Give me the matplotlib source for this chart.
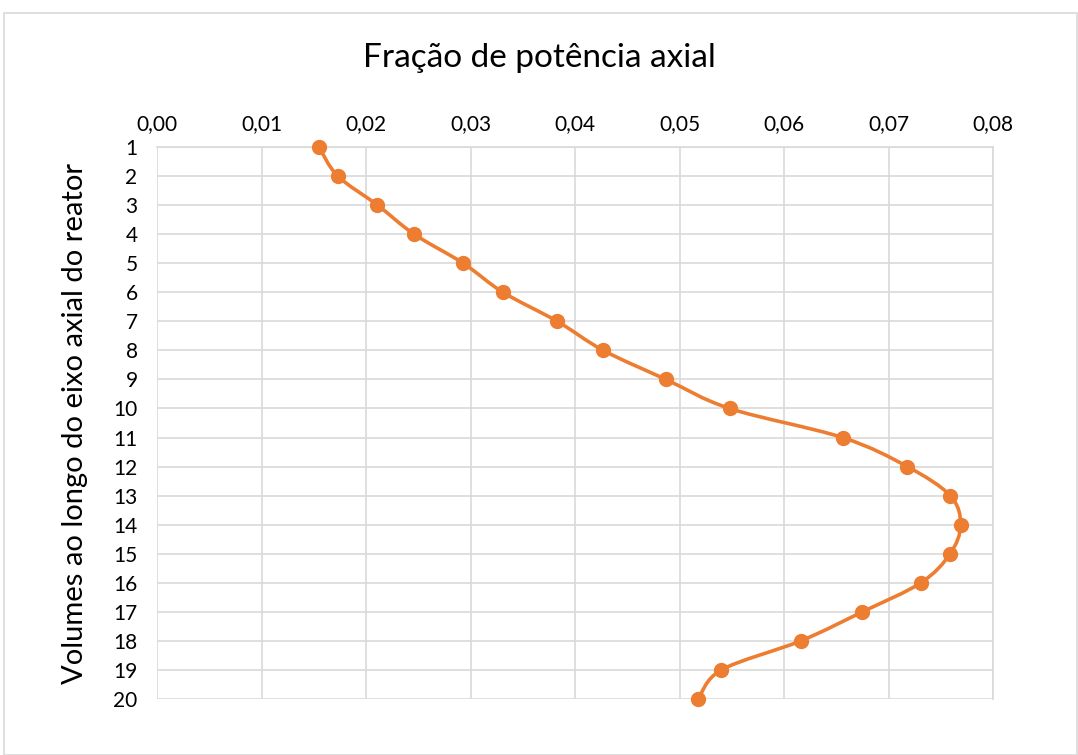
import numpy as np
import matplotlib.pyplot as plt
from matplotlib.path import Path
from matplotlib.patches import PathPatch, Rectangle
from matplotlib.ticker import FuncFormatter

plt.rcParams['font.family'] = ['Lato', 'DejaVu Sans']

# Dados
volumes = list(range(1, 21))
fracao = [0.0155, 0.0173, 0.0211, 0.0246, 0.0293, 0.0331, 0.0383, 0.0427, 0.0487, 0.0548,
          0.0656, 0.0718, 0.0759, 0.0769, 0.0759, 0.0731, 0.0675, 0.0616, 0.0540, 0.0518]
x_ticks = [0.00, 0.01, 0.02, 0.03, 0.04, 0.05, 0.06, 0.07, 0.08]

cor = '#ED7D31'

fig = plt.figure(figsize=(10.78, 7.55), dpi=100)
fig.patches.append(Rectangle((4 / 1078, 0), 1073 / 1078, 1 - 13 / 755, transform=fig.transFigure,
                             fill=False, edgecolor='#d9d9d9', linewidth=1.2))
ax = fig.add_axes([157 / 1078, 1 - 699 / 755, 836 / 1078, 552 / 755])

# linha suavizada (estilo Excel) com curvas de Bezier
pts = np.column_stack([fracao, volumes]).astype(float)
n = len(pts)
verts = [pts[0]]
codes = [Path.MOVETO]
for i in range(n - 1):
    p0 = pts[i - 1] if i > 0 else pts[i]
    p1 = pts[i]
    p2 = pts[i + 1]
    p3 = pts[i + 2] if i + 2 < n else pts[i + 1]
    c1 = p1 + (p2 - p0) / 6
    c2 = p2 - (p3 - p1) / 6
    verts += [c1, c2, p2]
    codes += [Path.CURVE4] * 3
ax.add_patch(PathPatch(Path(verts, codes), fill=False, edgecolor=cor, linewidth=2.6,
                       zorder=3, clip_on=False))
ax.plot(fracao, volumes, linestyle='none', marker='o', markersize=10, color=cor,
        zorder=4, clip_on=False)

ax.set_xlim(0, 0.08)
ax.set_ylim(20, 1)
ax.set_xticks(x_ticks)
ax.set_yticks(volumes)
ax.xaxis.set_major_formatter(FuncFormatter(lambda v, p: f'{v:.2f}'.replace('.', ',')))
ax.xaxis.tick_top()
ax.tick_params(length=0, labelsize=15, colors='#000000', pad=9)
ax.tick_params(axis='y', pad=14)
ax.grid(True, color='#d9d9d9', linewidth=1.2)
ax.set_axisbelow(True)
for s in ['left', 'bottom']:
    ax.spines[s].set_visible(False)
for s in ['top', 'right']:
    ax.spines[s].set_color('#d9d9d9')
    ax.spines[s].set_linewidth(1.2)

ax.set_ylabel('Volumes ao longo do eixo axial do reator', fontsize=21, labelpad=18)
fig.text(0.5, 1 - 58 / 755, 'Fração de potência axial', ha='center', va='center', fontsize=24)

fig.savefig('out.png', dpi=100)
